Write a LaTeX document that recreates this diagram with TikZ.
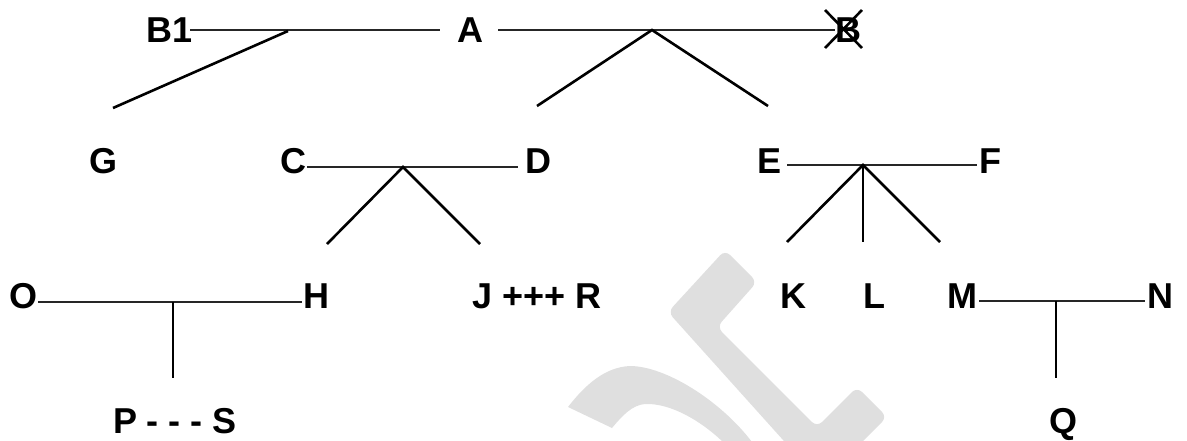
\documentclass[tikz,border=0pt]{standalone}
\usepackage{fontspec}
\setmainfont{Liberation Sans}
\begin{document}
\begin{tikzpicture}[x=1pt,y=-1pt,
  lbl/.style={font=\fontsize{36}{40}\selectfont\bfseries, inner sep=0pt,
              text height=26pt, text depth=0pt, anchor=center},
  hline/.style={line width=1.5pt, black!85},
  branch/.style={line width=2.6pt, black},
  wm/.style={fill=gray!25, draw=none}]
\useasboundingbox (0,0) rectangle (1187,440);
% watermark
\begin{scope}
  \clip (0,0) rectangle (1187,440);
  \path[wm, rounded corners=7pt] (725,250) -- (757,282) -- (717,327) -- (817,427)
     -- (857,387) -- (887,417) -- (834,470) -- (810,470) -- (668,312) -- cycle;
  \path[wm] (568,407) .. controls (585,385) and (605,367) .. (630,366)
     .. controls (665,366) and (720,400) .. (752,442) -- (723,442)
     .. controls (700,420) and (670,403) .. (645,404)
     .. controls (632,405) and (622,416) .. (612,428) -- cycle;
\end{scope}
% labels
\node[lbl] (B1) at (170,29) {B1};
\node[lbl] (A)  at (470,29) {A};
\node[lbl] (B)  at (848,29) {B};
\node[lbl] (G)  at (104,160) {G};
\node[lbl] (C)  at (293,160) {C};
\node[lbl] (D)  at (538,160) {D};
\node[lbl] (E)  at (769,160) {E};
\node[lbl] (F)  at (990,160) {F};
\node[lbl] (O)  at (24,295) {O};
\node[lbl] (H)  at (316,295) {H};
\node[lbl] (JR) at (537,295) {J +++ R};
\node[lbl] (K)  at (793,295) {K};
\node[lbl] (L)  at (874,295) {L};
\node[lbl] (M)  at (962,295) {M};
\node[lbl] (N)  at (1160,295) {N};
\node[lbl] (PS) at (175,420) {P - - - S};
\node[lbl] (Q)  at (1063,420) {Q};
% connector points
\coordinate (B1r) at (190,30);  \coordinate (Al) at (440,30);
\coordinate (Ar) at (498,30);   \coordinate (Bl) at (835,30);
\coordinate (top1) at (288,31); \coordinate (Gtop) at (113,108);
\coordinate (top2) at (652,30); \coordinate (Dtop) at (537,106); \coordinate (Etop) at (768,106);
\coordinate (Cr) at (307,167);  \coordinate (Dl) at (518,167);  \coordinate (cd) at (403,167);
\coordinate (Htop) at (327,244); \coordinate (Jtop) at (480,244);
\coordinate (Er) at (787,165);  \coordinate (Fl) at (977,165);  \coordinate (ef) at (863,165);
\coordinate (Ktop) at (787,242); \coordinate (Ltop) at (863,242); \coordinate (Mtop) at (940,242);
\coordinate (Or) at (38,302);   \coordinate (Hl) at (302,302);  \coordinate (oh) at (173,302);
\coordinate (Ptop) at (173,378);
\coordinate (Mr) at (979,301);  \coordinate (Nl) at (1145,301); \coordinate (mn) at (1056,301);
\coordinate (Qtop) at (1056,378);
% horizontal lines
\draw[hline] (B1r) -- (Al);
\draw[hline] (Ar) -- (Bl);
\draw[hline] (Cr) -- (Dl);
\draw[hline] (Er) -- (Fl);
\draw[hline] (Or) -- (Hl);
\draw[hline] (Mr) -- (Nl);
% branches
\draw[branch] (top1) -- (Gtop);
\draw[branch] (Dtop) -- (top2) -- (Etop);
\draw[branch] (Htop) -- (cd) -- (Jtop);
\draw[branch] (Ktop) -- (ef) -- (Mtop);
\draw[branch] (ef) -- (Ltop);
\draw[branch] (oh) -- (Ptop);
\draw[branch] (mn) -- (Qtop);
% cross over B
\draw[branch] (B.center) ++(-23,-19) -- ++(37,38);
\draw[branch] (B.center) ++(14,-19) -- ++(-37,38);
\end{tikzpicture}
\end{document}
